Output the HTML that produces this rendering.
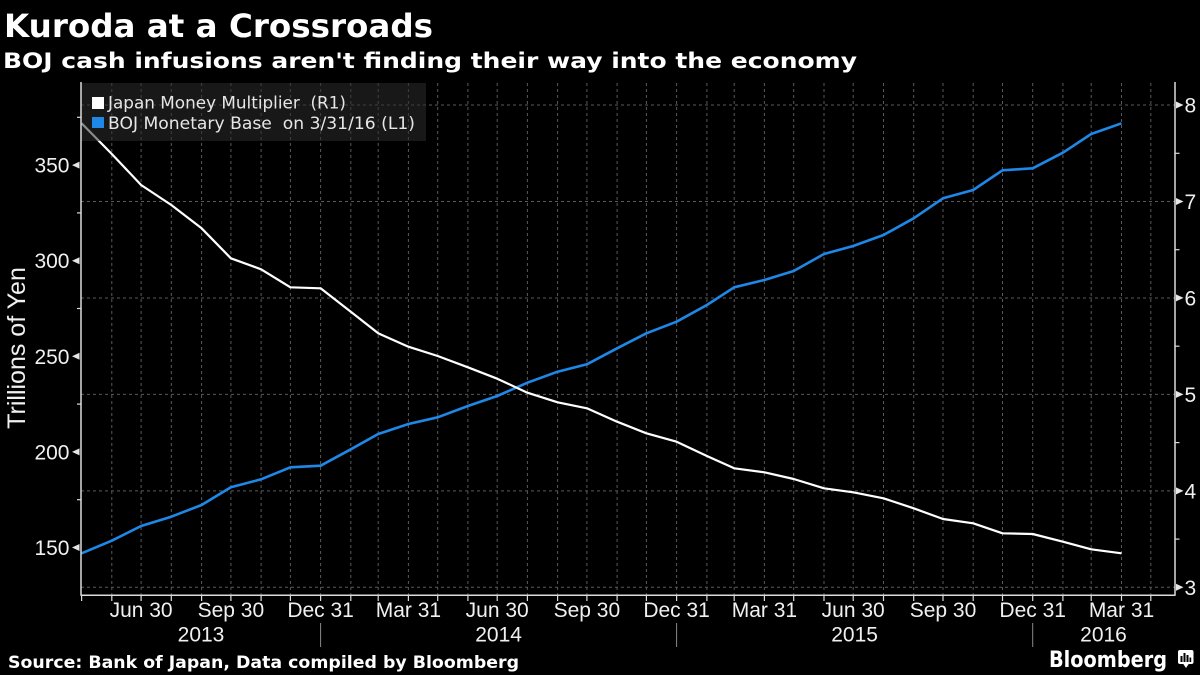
<!DOCTYPE html>
<html>
<head>
<meta charset="utf-8">
<style>
  html, body { margin: 0; padding: 0; background: #000; }
  body { width: 1200px; height: 675px; overflow: hidden; }
  svg { display: block; }
</style>
</head>
<body>
<svg width="1200" height="675" viewBox="0 0 1200 675" xmlns="http://www.w3.org/2000/svg">
  <rect x="0" y="0" width="1200" height="675" fill="#000"/>

  <!-- Titles -->
  <text x="4" y="37" font-family="'DejaVu Sans', 'Liberation Sans', sans-serif" font-weight="bold" font-size="32" fill="#fff" textLength="429" lengthAdjust="spacingAndGlyphs">Kuroda at a Crossroads</text>
  <text x="3" y="68" font-family="'DejaVu Sans', 'Liberation Sans', sans-serif" font-weight="bold" font-size="21" fill="#fff" textLength="854" lengthAdjust="spacingAndGlyphs">BOJ cash infusions aren't finding their way into the economy</text>

  <!-- Horizontal grid -->
  <g stroke="#5a5a5a" stroke-width="1" stroke-dasharray="3,3" fill="none">
    <line x1="81" y1="105" x2="1175" y2="105"/>
    <line x1="81" y1="201.5" x2="1175" y2="201.5"/>
    <line x1="81" y1="298" x2="1175" y2="298"/>
    <line x1="81" y1="394.4" x2="1175" y2="394.4"/>
    <line x1="81" y1="490.9" x2="1175" y2="490.9"/>
    <line x1="81" y1="587.3" x2="1175" y2="587.3"/>
  </g>

  <!-- Vertical grid (month ends) -->
  <g stroke="#5a5a5a" stroke-width="1" stroke-dasharray="3,3" fill="none">
    <line x1="111.8" y1="83" x2="111.8" y2="595"/>
    <line x1="141.1" y1="83" x2="141.1" y2="595"/>
    <line x1="171.3" y1="83" x2="171.3" y2="595"/>
    <line x1="201.6" y1="83" x2="201.6" y2="595"/>
    <line x1="230.9" y1="83" x2="230.9" y2="595"/>
    <line x1="261.1" y1="83" x2="261.1" y2="595"/>
    <line x1="290.4" y1="83" x2="290.4" y2="595"/>
    <line x1="320.6" y1="83" x2="320.6" y2="595"/>
    <line x1="350.8" y1="83" x2="350.8" y2="595"/>
    <line x1="378.2" y1="83" x2="378.2" y2="595"/>
    <line x1="408.4" y1="83" x2="408.4" y2="595"/>
    <line x1="437.7" y1="83" x2="437.7" y2="595"/>
    <line x1="467.9" y1="83" x2="467.9" y2="595"/>
    <line x1="497.2" y1="83" x2="497.2" y2="595"/>
    <line x1="527.4" y1="83" x2="527.4" y2="595"/>
    <line x1="557.6" y1="83" x2="557.6" y2="595"/>
    <line x1="586.9" y1="83" x2="586.9" y2="595"/>
    <line x1="617.1" y1="83" x2="617.1" y2="595"/>
    <line x1="646.4" y1="83" x2="646.4" y2="595"/>
    <line x1="676.6" y1="83" x2="676.6" y2="595"/>
    <line x1="706.9" y1="83" x2="706.9" y2="595"/>
    <line x1="734.2" y1="83" x2="734.2" y2="595"/>
    <line x1="764.4" y1="83" x2="764.4" y2="595"/>
    <line x1="793.7" y1="83" x2="793.7" y2="595"/>
    <line x1="824.0" y1="83" x2="824.0" y2="595"/>
    <line x1="853.2" y1="83" x2="853.2" y2="595"/>
    <line x1="883.5" y1="83" x2="883.5" y2="595"/>
    <line x1="913.7" y1="83" x2="913.7" y2="595"/>
    <line x1="943.0" y1="83" x2="943.0" y2="595"/>
    <line x1="973.2" y1="83" x2="973.2" y2="595"/>
    <line x1="1002.5" y1="83" x2="1002.5" y2="595"/>
    <line x1="1032.7" y1="83" x2="1032.7" y2="595"/>
    <line x1="1062.9" y1="83" x2="1062.9" y2="595"/>
    <line x1="1091.2" y1="83" x2="1091.2" y2="595"/>
    <line x1="1121.5" y1="83" x2="1121.5" y2="595"/>
    <line x1="1150.8" y1="83" x2="1150.8" y2="595"/>
  </g>

  <!-- Series: BOJ Monetary Base (blue, L1) -->
  <polyline fill="none" stroke="#1f87e6" stroke-width="2.6" stroke-linejoin="round" points="
    81.6,553.3 111.8,540.7 141.1,526 171.3,516.7 201.6,505 230.9,487.3 261.1,479.3 290.4,467.3 320.6,465.7
    350.8,449.3 378.2,434 408.4,424 437.7,417.3 467.9,406 497.2,396 527.4,382.7 557.6,371.7 586.9,364.3
    617.1,348.3 646.4,333.3 676.6,321.7 706.9,305 734.2,287.3 764.4,280 793.7,271 824.0,254 853.2,246
    883.5,235 913.7,218.3 943.0,198.3 973.2,190 1002.5,170.3 1032.7,168.3 1062.9,152.7 1091.2,134 1121.5,123.3"/>

  <!-- Series: Japan Money Multiplier (white, R1) -->
  <polyline fill="none" stroke="#ffffff" stroke-width="2.2" stroke-linejoin="round" points="
    81.6,123.3 111.8,154 141.1,185 171.3,205 201.6,228.3 230.9,258.3 261.1,269.3 290.4,287.3 320.6,288.3
    350.8,311.7 378.2,333.3 408.4,346.7 437.7,356 467.9,367.3 497.2,378.7 527.4,392.7 557.6,402.3 586.9,408.3
    617.1,421.7 646.4,433.3 676.6,441.7 706.9,456 734.2,468.3 764.4,472.3 793.7,479 824.0,488.3 853.2,492.3
    883.5,498.3 913.7,508.3 943.0,519 973.2,523.3 1002.5,533.3 1032.7,534 1062.9,541.7 1091.2,549.3 1121.5,553.3"/>

  <!-- Legend -->
  <rect x="81" y="83" width="345" height="58" fill="rgba(44,44,44,0.55)"/>
  <rect x="92" y="97" width="12" height="12" fill="#ffffff"/>
  <rect x="92" y="117" width="12" height="11" fill="#1f87e6"/>
  <text x="108" y="108.5" font-family="'DejaVu Sans', 'Liberation Sans', sans-serif" font-size="16.5" fill="#e6e6e6" textLength="238" lengthAdjust="spacingAndGlyphs" xml:space="preserve">Japan Money Multiplier  (R1)</text>
  <text x="108" y="129" font-family="'DejaVu Sans', 'Liberation Sans', sans-serif" font-size="16.5" fill="#e6e6e6" textLength="307" lengthAdjust="spacingAndGlyphs" xml:space="preserve">BOJ Monetary Base  on 3/31/16 (L1)</text>

  <!-- Axes lines -->
  <g stroke="#dcdcdc" stroke-width="1.5" fill="none">
    <line x1="81" y1="82" x2="81" y2="595.5"/>
    <line x1="1175" y1="82" x2="1175" y2="595.5"/>
    <line x1="80.5" y1="595.3" x2="1175.5" y2="595.3"/>
  </g>

  <!-- Left ticks -->
  <g fill="#e6e6e6">
    <polygon points="72,547.5 79.5,544 79.5,551"/>
    <polygon points="72,451.9 79.5,448.4 79.5,455.4"/>
    <polygon points="72,356.3 79.5,352.8 79.5,359.8"/>
    <polygon points="72,260.7 79.5,257.2 79.5,264.2"/>
    <polygon points="72,165.1 79.5,161.6 79.5,168.6"/>
  </g>
  <g stroke="#dcdcdc" stroke-width="1.2">
    <line x1="77" y1="499.7" x2="81" y2="499.7"/>
    <line x1="77" y1="404.1" x2="81" y2="404.1"/>
    <line x1="77" y1="308.5" x2="81" y2="308.5"/>
    <line x1="77" y1="212.9" x2="81" y2="212.9"/>
    <line x1="77" y1="117.3" x2="81" y2="117.3"/>
  </g>
  <g font-family="'Liberation Sans', sans-serif" font-size="21" fill="#f0f0f0" text-anchor="end">
    <text x="69.5" y="555">150</text>
    <text x="69.5" y="459.4">200</text>
    <text x="69.5" y="363.8">250</text>
    <text x="69.5" y="268.2">300</text>
    <text x="69.5" y="172.6">350</text>
  </g>

  <!-- Right ticks -->
  <g fill="#e6e6e6">
    <polygon points="1183.5,587.3 1176,583.8 1176,590.8"/>
    <polygon points="1183.5,490.9 1176,487.4 1176,494.4"/>
    <polygon points="1183.5,394.4 1176,390.9 1176,397.9"/>
    <polygon points="1183.5,297.9 1176,294.4 1176,301.4"/>
    <polygon points="1183.5,201.5 1176,198 1176,205"/>
    <polygon points="1183.5,105 1176,101.5 1176,108.5"/>
  </g>
  <g stroke="#dcdcdc" stroke-width="1.2">
    <line x1="1175" y1="539.1" x2="1179.5" y2="539.1"/>
    <line x1="1175" y1="442.6" x2="1179.5" y2="442.6"/>
    <line x1="1175" y1="346.2" x2="1179.5" y2="346.2"/>
    <line x1="1175" y1="249.7" x2="1179.5" y2="249.7"/>
    <line x1="1175" y1="153.3" x2="1179.5" y2="153.3"/>
  </g>
  <g font-family="'Liberation Sans', sans-serif" font-size="21" fill="#f0f0f0">
    <text x="1184.5" y="594.8">3</text>
    <text x="1184.5" y="498.4">4</text>
    <text x="1184.5" y="401.9">5</text>
    <text x="1184.5" y="305.4">6</text>
    <text x="1184.5" y="209">7</text>
    <text x="1184.5" y="112.5">8</text>
  </g>

  <!-- Y axis title -->
  <text transform="translate(25,348) rotate(-90)" text-anchor="middle" font-family="'Liberation Sans', sans-serif" font-size="25" fill="#f0f0f0">Trillions of Yen</text>

  <!-- Bottom ticks -->
  <g stroke="#dcdcdc" stroke-width="1.2">
    <line x1="81.6" y1="595" x2="81.6" y2="601"/>
    <line x1="111.8" y1="595" x2="111.8" y2="601"/>
    <line x1="141.1" y1="595" x2="141.1" y2="601"/>
    <line x1="171.3" y1="595" x2="171.3" y2="601"/>
    <line x1="201.6" y1="595" x2="201.6" y2="601"/>
    <line x1="230.9" y1="595" x2="230.9" y2="601"/>
    <line x1="261.1" y1="595" x2="261.1" y2="601"/>
    <line x1="290.4" y1="595" x2="290.4" y2="601"/>
    <line x1="320.6" y1="595" x2="320.6" y2="601"/>
    <line x1="350.8" y1="595" x2="350.8" y2="601"/>
    <line x1="378.2" y1="595" x2="378.2" y2="601"/>
    <line x1="408.4" y1="595" x2="408.4" y2="601"/>
    <line x1="437.7" y1="595" x2="437.7" y2="601"/>
    <line x1="467.9" y1="595" x2="467.9" y2="601"/>
    <line x1="497.2" y1="595" x2="497.2" y2="601"/>
    <line x1="527.4" y1="595" x2="527.4" y2="601"/>
    <line x1="557.6" y1="595" x2="557.6" y2="601"/>
    <line x1="586.9" y1="595" x2="586.9" y2="601"/>
    <line x1="617.1" y1="595" x2="617.1" y2="601"/>
    <line x1="646.4" y1="595" x2="646.4" y2="601"/>
    <line x1="676.6" y1="595" x2="676.6" y2="601"/>
    <line x1="706.9" y1="595" x2="706.9" y2="601"/>
    <line x1="734.2" y1="595" x2="734.2" y2="601"/>
    <line x1="764.4" y1="595" x2="764.4" y2="601"/>
    <line x1="793.7" y1="595" x2="793.7" y2="601"/>
    <line x1="824.0" y1="595" x2="824.0" y2="601"/>
    <line x1="853.2" y1="595" x2="853.2" y2="601"/>
    <line x1="883.5" y1="595" x2="883.5" y2="601"/>
    <line x1="913.7" y1="595" x2="913.7" y2="601"/>
    <line x1="943.0" y1="595" x2="943.0" y2="601"/>
    <line x1="973.2" y1="595" x2="973.2" y2="601"/>
    <line x1="1002.5" y1="595" x2="1002.5" y2="601"/>
    <line x1="1032.7" y1="595" x2="1032.7" y2="601"/>
    <line x1="1062.9" y1="595" x2="1062.9" y2="601"/>
    <line x1="1091.2" y1="595" x2="1091.2" y2="601"/>
    <line x1="1121.5" y1="595" x2="1121.5" y2="601"/>
    <line x1="1150.8" y1="595" x2="1150.8" y2="601"/>
  </g>

  <!-- Month labels -->
  <g font-family="'Liberation Sans', sans-serif" font-size="21" fill="#f0f0f0" text-anchor="middle">
    <text x="141.1" y="617">Jun 30</text>
    <text x="230.9" y="617">Sep 30</text>
    <text x="320.6" y="617">Dec 31</text>
    <text x="408.4" y="617">Mar 31</text>
    <text x="497.2" y="617">Jun 30</text>
    <text x="586.9" y="617">Sep 30</text>
    <text x="676.6" y="617">Dec 31</text>
    <text x="764.4" y="617">Mar 31</text>
    <text x="853.2" y="617">Jun 30</text>
    <text x="943.0" y="617">Sep 30</text>
    <text x="1032.7" y="617">Dec 31</text>
    <text x="1121.5" y="617">Mar 31</text>
  </g>

  <!-- Year labels -->
  <g font-family="'Liberation Sans', sans-serif" font-size="21" fill="#f0f0f0" text-anchor="middle">
    <text x="201" y="641.7">2013</text>
    <text x="498.6" y="641.7">2014</text>
    <text x="854.6" y="641.7">2015</text>
    <text x="1103.5" y="641.7">2016</text>
  </g>
  <g stroke="#8a8a8a" stroke-width="1">
    <line x1="320.6" y1="623" x2="320.6" y2="647"/>
    <line x1="676.6" y1="623" x2="676.6" y2="647"/>
    <line x1="1032.7" y1="623" x2="1032.7" y2="647"/>
  </g>

  <!-- Source -->
  <text x="8" y="668" font-family="'DejaVu Sans', 'Liberation Sans', sans-serif" font-weight="bold" font-size="17" fill="#fff" textLength="511" lengthAdjust="spacingAndGlyphs">Source: Bank of Japan, Data compiled by Bloomberg</text>

  <!-- Bloomberg logo -->
  <text x="1049" y="667" font-family="'DejaVu Sans', 'Liberation Sans', sans-serif" font-weight="bold" font-size="22" fill="#fff" textLength="118" lengthAdjust="spacingAndGlyphs">Bloomberg</text>
  <rect x="1178" y="650" width="15.5" height="14" rx="2" fill="#fff"/>
  <polygon points="1183,663.5 1189,663.5 1186,668" fill="#fff"/>
  <g fill="#000">
    <rect x="1180.5" y="656" width="2" height="6"/>
    <rect x="1183.5" y="653" width="2" height="9"/>
    <rect x="1186.5" y="655" width="2" height="7"/>
    <rect x="1189.5" y="657.5" width="1.7" height="4.5"/>
  </g>
</svg>
</body>
</html>
